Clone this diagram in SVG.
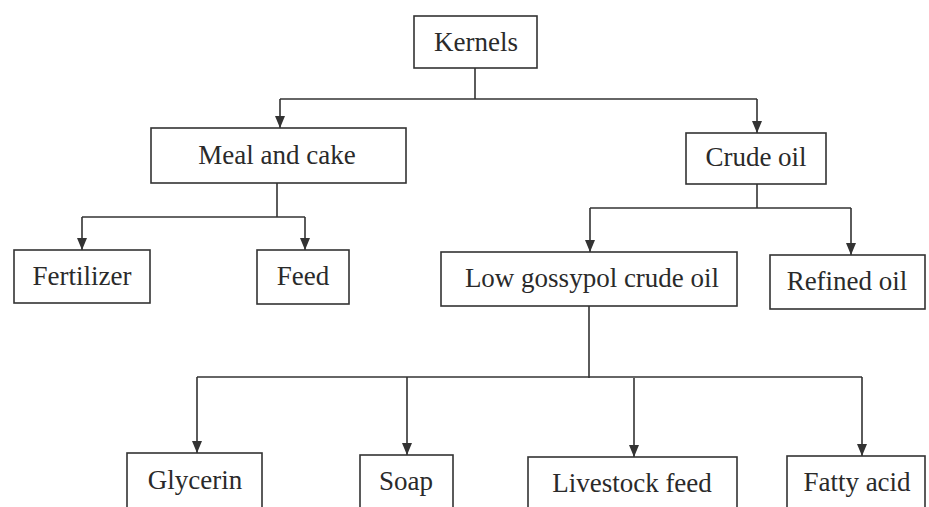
<svg xmlns="http://www.w3.org/2000/svg" width="929" height="507" viewBox="0 0 929 507">
<defs>
<style>
.box{fill:#fff;stroke:#333;stroke-width:1.6}
.lbl{font-family:"Liberation Serif","Times New Roman",serif;font-size:27px;fill:#2a2a2a;text-anchor:middle}
.ln{fill:none;stroke:#333;stroke-width:1.6}
</style>
<marker id="ah" viewBox="0 0 12 10" refX="12" refY="5" markerWidth="12" markerHeight="10" markerUnits="userSpaceOnUse" orient="auto">
<path d="M0,0 L12,5 L0,10 Z" fill="#333"/>
</marker>
</defs>
<rect width="929" height="507" fill="#fff"/>
<g id="connectors">
<path class="ln" d="M475,68 V99"/>
<path class="ln" d="M280,99 H757"/>
<path class="ln" d="M280,99 V128" marker-end="url(#ah)"/>
<path class="ln" d="M757,99 V133" marker-end="url(#ah)"/>
<path class="ln" d="M277,183 V217"/>
<path class="ln" d="M82,217 H305"/>
<path class="ln" d="M82,217 V250" marker-end="url(#ah)"/>
<path class="ln" d="M305,217 V250" marker-end="url(#ah)"/>
<path class="ln" d="M757,184 V208"/>
<path class="ln" d="M590,208 H851"/>
<path class="ln" d="M590,208 V252" marker-end="url(#ah)"/>
<path class="ln" d="M851,208 V255" marker-end="url(#ah)"/>
<path class="ln" d="M589,306 V378"/>
<path class="ln" d="M197,377 H862"/>
<path class="ln" d="M197,377 V453" marker-end="url(#ah)"/>
<path class="ln" d="M407,377 V455" marker-end="url(#ah)"/>
<path class="ln" d="M634,378 V457" marker-end="url(#ah)"/>
<path class="ln" d="M862,377 V456" marker-end="url(#ah)"/>
</g>
<g id="kernels"><rect class="box" x="414" y="16" width="123" height="52"/><text class="lbl" x="476" y="51">Kernels</text></g>
<g id="meal"><rect class="box" x="151" y="128" width="255" height="55"/><text class="lbl" x="277" y="164">Meal and cake</text></g>
<g id="crude"><rect class="box" x="686" y="133" width="140" height="51"/><text class="lbl" x="756" y="166">Crude oil</text></g>
<g id="fertilizer"><rect class="box" x="14" y="250" width="136" height="53"/><text class="lbl" x="82" y="285">Fertilizer</text></g>
<g id="feed"><rect class="box" x="257" y="250" width="92" height="54"/><text class="lbl" x="303" y="285">Feed</text></g>
<g id="lowgossypol"><rect class="box" x="441" y="252" width="296" height="54"/><text class="lbl" x="592" y="287">Low gossypol crude oil</text></g>
<g id="refined"><rect class="box" x="770" y="255" width="155" height="54"/><text class="lbl" x="847" y="290">Refined oil</text></g>
<g id="glycerin"><rect class="box" x="127" y="453" width="135" height="62"/><text class="lbl" x="195" y="489">Glycerin</text></g>
<g id="soap"><rect class="box" x="360" y="455" width="93" height="60"/><text class="lbl" x="406" y="490">Soap</text></g>
<g id="livestock"><rect class="box" x="528" y="457" width="209" height="58"/><text class="lbl" x="632" y="492">Livestock feed</text></g>
<g id="fatty"><rect class="box" x="787" y="456" width="138" height="59"/><text class="lbl" x="857" y="491">Fatty acid</text></g>
</svg>
